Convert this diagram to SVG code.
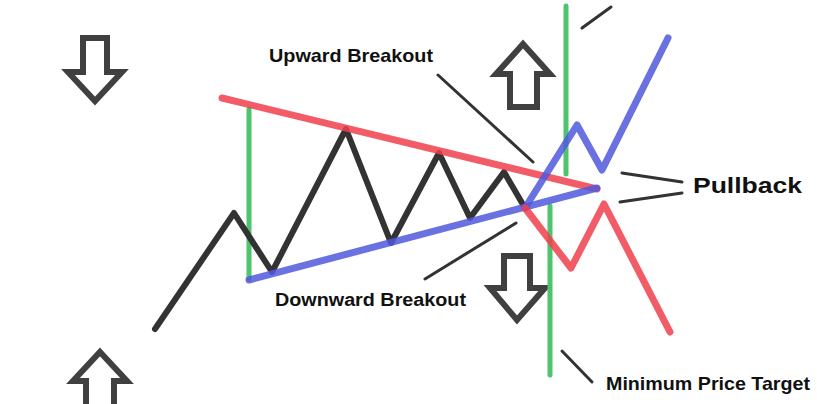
<svg xmlns="http://www.w3.org/2000/svg" width="817" height="404" viewBox="0 0 817 404">
<style>
.price{fill:none;stroke:#333;stroke-width:6;stroke-linejoin:round;stroke-linecap:round}
.red{fill:none;stroke:#f0404c;stroke-opacity:0.85;stroke-width:7;stroke-linejoin:round;stroke-linecap:round}
.blue{fill:none;stroke:#5058dc;stroke-opacity:0.85;stroke-width:7;stroke-linejoin:round;stroke-linecap:round}
.green{fill:none;stroke:#4fc46e;stroke-width:5;stroke-linecap:round}
.arrow{fill:#fff;stroke:#404040;stroke-width:6;stroke-linejoin:miter}
.ptr{fill:none;stroke:#333;stroke-width:3;stroke-linecap:round}
.lbl{font-family:"Liberation Sans",Arial,sans-serif;font-weight:bold;fill:#111}
</style>
<rect width="817" height="404" fill="#fff"/>
<g id="arrows">
<path class="arrow" d="M83,38 H107 V72 H122 L95,101 L68,72 H83 Z"/>
<path class="arrow" d="M523,44 L550,74 H537 V107 H510 V74 H496 Z"/>
<path class="arrow" d="M504,256 H530 V288 H545 L517,320 L490,288 H504 Z"/>
<path class="arrow" d="M100,352 L127,381 H114 V412 H86 V381 H73 Z"/>
</g>
<g id="targets">
<line class="green" x1="249" y1="109" x2="249" y2="279"/>
<line class="green" x1="566" y1="6" x2="566" y2="174"/>
<line class="green" x1="550" y1="206" x2="550" y2="375"/>
</g>
<g id="price">
<polyline class="price" points="155,329 234,213 272,272 346,129 391,243 439,153 470,218 504,172 525,208"/>
</g>
<g id="trendlines">
<line class="red" x1="222" y1="98" x2="597" y2="189"/>
<line class="blue" x1="249" y1="280" x2="597" y2="188"/>
<polyline class="blue" points="525,208 577,125 602,170 668,38"/>
<polyline class="red" points="525,208 571,268 604,204 670,332"/>
</g>
<g id="connectors">
<line class="ptr" x1="438" y1="75" x2="533" y2="162"/>
<line class="ptr" x1="582" y1="28" x2="611" y2="7"/>
<line class="ptr" x1="425" y1="279" x2="516" y2="223"/>
<line class="ptr" x1="622" y1="173" x2="682" y2="182" stroke="#111"/>
<line class="ptr" x1="620" y1="202" x2="682" y2="193" stroke="#111"/>
<line class="ptr" x1="562" y1="351" x2="592" y2="382"/>
</g>
<g id="label-upward">
<text class="lbl" x="269" y="62" font-size="19" textLength="164" lengthAdjust="spacingAndGlyphs">Upward Breakout</text>
</g>
<g id="label-downward">
<text class="lbl" x="275" y="306" font-size="18" textLength="191" lengthAdjust="spacingAndGlyphs">Downward Breakout</text>
</g>
<g id="label-pullback">
<text class="lbl" x="693" y="193" font-size="22" textLength="109" lengthAdjust="spacingAndGlyphs">Pullback</text>
</g>
<g id="label-target">
<text class="lbl" x="606" y="390" font-size="19" textLength="204" lengthAdjust="spacingAndGlyphs">Minimum Price Target</text>
</g>
</svg>
